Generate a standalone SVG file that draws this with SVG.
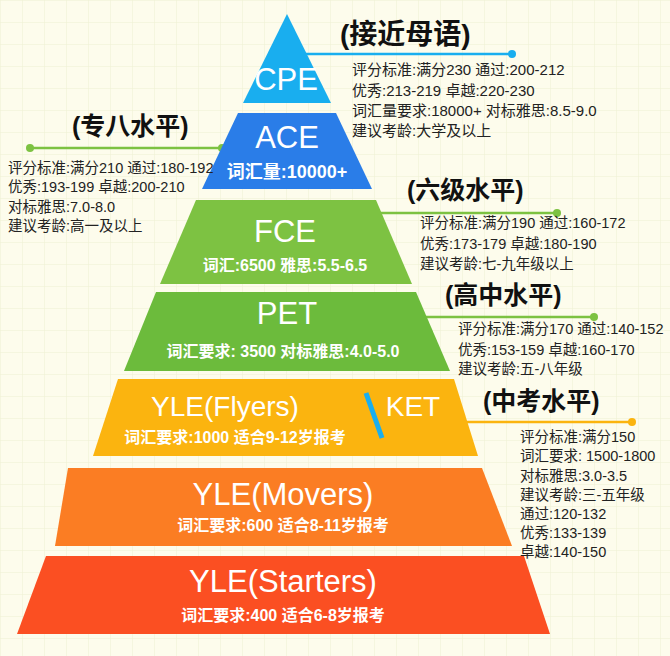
<svg xmlns="http://www.w3.org/2000/svg" width="670" height="656" viewBox="0 0 670 656">
<defs>
<pattern id="grid" width="22" height="22" patternUnits="userSpaceOnUse">
<path d="M22 0H0V22" fill="none" stroke="#eef0d2" stroke-width="1"/>
</pattern>
<style>
text{font-family:"Liberation Sans","Noto Sans CJK SC",sans-serif}
.t{fill:#fff;text-anchor:middle}
.big{font-size:31px}
.sub{font-size:16px;font-weight:bold}
.h{font-size:25px;font-weight:bold;fill:#111}
.i{font-size:14.5px;fill:#222}
</style>
</defs>
<rect width="670" height="656" fill="#fdfcec"/>
<rect width="670" height="656" fill="url(#grid)"/>
<g id="connectors" stroke-width="2.5">
<line x1="300" y1="54" x2="512" y2="54" stroke="#19aeef"/><circle cx="512" cy="54" r="4" fill="#19aeef"/>
<line x1="30" y1="148" x2="222" y2="148" stroke="#7dc242"/><circle cx="30" cy="148" r="4" fill="#7dc242"/><circle cx="222" cy="148" r="4" fill="#7dc242"/>
<line x1="372" y1="213" x2="557" y2="213" stroke="#7dc242"/><circle cx="557" cy="213" r="4" fill="#7dc242"/>
<line x1="415" y1="317" x2="594" y2="317" stroke="#7dc242"/><circle cx="594" cy="317" r="4" fill="#7dc242"/>
<line x1="460" y1="422" x2="632" y2="422" stroke="#fbb40f"/><circle cx="632" cy="422" r="4" fill="#fbb40f"/>
</g>
<g id="cpe">
<polygon points="287,14 331,103 243,103" fill="#19aeef"/>
<text class="t big" x="286" y="90">CPE</text>
<text class="h" x="340" y="44" style="font-size:28px">(接近母语)</text>
<text class="i" x="352" y="75" style="font-size:15px">评分标准:满分230 通过:200-212</text>
<text class="i" x="352" y="96" style="font-size:15px">优秀:213-219 卓越:220-230</text>
<text class="i" x="352" y="116" style="font-size:15px">词汇量要求:18000+ 对标雅思:8.5-9.0</text>
<text class="i" x="352" y="136" style="font-size:15px">建议考龄:大学及以上</text>
</g>
<g id="ace">
<polygon points="238,113 336,113 372,189 202,189" fill="#2a7de8"/>
<text class="t big" x="287" y="148">ACE</text>
<text class="t sub" x="287" y="178" style="font-size:18px">词汇量:10000+</text>
<text class="h" x="72" y="135">(专八水平)</text>
<text class="i" x="8" y="173">评分标准:满分210 通过:180-192</text>
<text class="i" x="8" y="192">优秀:193-199 卓越:200-210</text>
<text class="i" x="8" y="212">对标雅思:7.0-8.0</text>
<text class="i" x="8" y="231">建议考龄:高一及以上</text>
</g>
<g id="fce">
<polygon points="196,200 376,200 412,284 160,284" fill="#7dc242"/>
<text class="t big" x="285" y="242">FCE</text>
<text class="t sub" x="285" y="271">词汇:6500 雅思:5.5-6.5</text>
<text class="h" x="407" y="199">(六级水平)</text>
<text class="i" x="420" y="228">评分标准:满分190 通过:160-172</text>
<text class="i" x="420" y="249">优秀:173-179 卓越:180-190</text>
<text class="i" x="420" y="269">建议考龄:七-九年级以上</text>
</g>
<g id="pet">
<polygon points="156,292 416,292 450,371 124,371" fill="#6cbb3c"/>
<text class="t big" x="287" y="324">PET</text>
<text class="t sub" x="283" y="357">词汇要求: 3500 对标雅思:4.0-5.0</text>
<text class="h" x="445" y="304">(高中水平)</text>
<text class="i" x="458" y="334">评分标准:满分170 通过:140-152</text>
<text class="i" x="458" y="355">优秀:153-159 卓越:160-170</text>
<text class="i" x="458" y="374">建议考龄:五-八年级</text>
</g>
<g id="flyers">
<polygon points="118,379 454,379 478,456 93,456" fill="#fbb40f"/>
<text class="t" x="225" y="416" style="font-size:28px">YLE(Flyers)</text>
<text class="t sub" x="235" y="443">词汇要求:1000 适合9-12岁报考</text>
<line x1="366" y1="393" x2="382" y2="438" stroke="#19aeef" stroke-width="5"/>
<text class="t" x="413" y="416" style="font-size:28px">KET</text>
<text class="h" x="483" y="410">(中考水平)</text>
<text class="i" x="520" y="442">评分标准:满分150</text>
<text class="i" x="520" y="461">词汇要求: 1500-1800</text>
<text class="i" x="520" y="481">对标雅思:3.0-3.5</text>
<text class="i" x="520" y="500">建议考龄:三-五年级</text>
<text class="i" x="520" y="519">通过:120-132</text>
<text class="i" x="520" y="538">优秀:133-139</text>
<text class="i" x="520" y="557">卓越:140-150</text>
</g>
<g id="movers">
<polygon points="68,468 482,468 512,546 55,546" fill="#fb7d23"/>
<text class="t big" x="283" y="505">YLE(Movers)</text>
<text class="t sub" x="283" y="531">词汇要求:600  适合8-11岁报考</text>
</g>
<g id="starters">
<polygon points="46,556 524,556 550,634 17,634" fill="#fb4f22"/>
<text class="t big" x="283" y="592">YLE(Starters)</text>
<text class="t sub" x="283" y="621">词汇要求:400  适合6-8岁报考</text>
</g>
</svg>
